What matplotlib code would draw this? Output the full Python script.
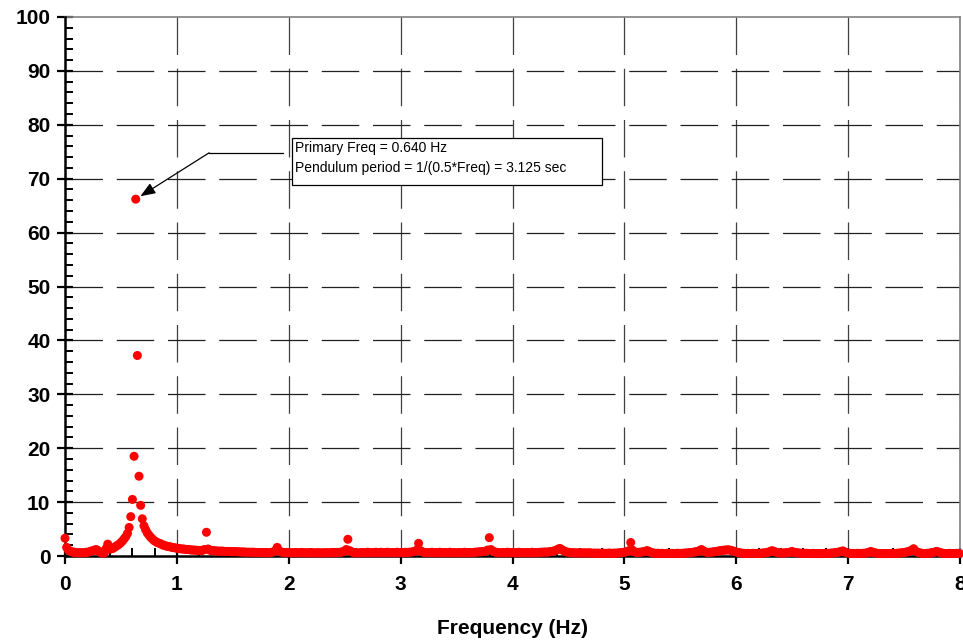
import numpy as np
import matplotlib
matplotlib.use("Agg")
import matplotlib.pyplot as plt
from matplotlib.ticker import MultipleLocator
from matplotlib.patches import Rectangle

plt.rcParams['font.family'] = ['Liberation Sans', 'DejaVu Sans']

# ---- data -------------------------------------------------------------
freq_step = 0.0147          # Hz between spectrum bins
amplitude = [
    3.3, 1.6, 1.1, 0.9, 0.8, 0.7, 0.7, 0.6, 0.6, 0.6, 0.6, 0.6, 0.6, 0.7, 0.7, 0.8, 0.9, 1.0, 1.1, 1.2,
    1.0, 0.8, 0.6, 0.5, 0.6, 1.4, 2.2, 1.5, 1.3, 1.4, 1.6, 1.8, 2.0, 2.2, 2.5, 2.8, 3.2, 3.6, 4.2, 5.3,
    7.3, 10.5, 18.5, 66.2, 37.2, 14.8, 9.4, 6.9, 5.6, 4.9, 4.3, 3.9, 3.5, 3.2, 2.9, 2.7, 2.5, 2.4, 2.3, 2.1,
    2.0, 1.9, 1.8, 1.75, 1.7, 1.6, 1.55, 1.5, 1.45, 1.4, 1.35, 1.3, 1.3, 1.25, 1.2, 1.2, 1.15, 1.1, 1.1, 1.1,
    1.05, 1.05, 1.0, 1.0, 1.1, 1.2, 4.4, 1.3, 1.1, 1.0, 1.0, 0.95, 0.95, 0.9, 0.9, 0.9, 0.9, 0.85, 0.85, 0.85,
    0.85, 0.8, 0.8, 0.8, 0.8, 0.8, 0.75, 0.75, 0.75, 0.75, 0.7, 0.7, 0.7, 0.7, 0.7, 0.7, 0.65, 0.65, 0.65, 0.65,
    0.65, 0.6, 0.6, 0.6, 0.6, 0.65, 0.7, 0.8, 1.0, 1.6, 1.0, 0.8, 0.7, 0.65, 0.65, 0.65, 0.6, 0.6, 0.6, 0.6,
    0.65, 0.6, 0.6, 0.6, 0.65, 0.6, 0.6, 0.6, 0.6, 0.6, 0.6, 0.6, 0.55, 0.6, 0.6, 0.6, 0.55, 0.6, 0.6, 0.6,
    0.6, 0.6, 0.6, 0.65, 0.6, 0.6, 0.65, 0.7, 0.7, 0.8, 0.9, 1.2, 3.1, 1.0, 0.8, 0.7, 0.6, 0.6, 0.55, 0.6,
    0.6, 0.65, 0.6, 0.6, 0.7, 0.65, 0.6, 0.6, 0.65, 0.7, 0.6, 0.65, 0.7, 0.6, 0.6, 0.65, 0.7, 0.6, 0.6, 0.65,
    0.6, 0.65, 0.7, 0.6, 0.6, 0.65, 0.6, 0.7, 0.65, 0.7, 0.7, 0.75, 0.8, 0.9, 1.1, 2.35, 1.0, 0.8, 0.7, 0.65,
    0.6, 0.6, 0.65, 0.7, 0.6, 0.6, 0.65, 0.6, 0.7, 0.6, 0.6, 0.65, 0.6, 0.6, 0.7, 0.6, 0.65, 0.6, 0.6, 0.6,
    0.65, 0.6, 0.6, 0.7, 0.6, 0.6, 0.65, 0.6, 0.65, 0.7, 0.7, 0.75, 0.75, 0.8, 0.8, 0.85, 0.9, 1.1, 3.4, 1.2,
    0.9, 0.8, 0.7, 0.65, 0.6, 0.6, 0.65, 0.6, 0.6, 0.7, 0.6, 0.65, 0.6, 0.6, 0.6, 0.65, 0.7, 0.6, 0.6, 0.6,
    0.6, 0.65, 0.6, 0.6, 0.7, 0.6, 0.65, 0.6, 0.65, 0.7, 0.7, 0.7, 0.75, 0.7, 0.75, 0.8, 0.85, 0.9, 1.0, 1.1,
    1.3, 1.4, 1.2, 1.0, 0.85, 0.75, 0.7, 0.65, 0.6, 0.6, 0.6, 0.55, 0.6, 0.6, 0.55, 0.6, 0.55, 0.6, 0.55, 0.6,
    0.55, 0.5, 0.55, 0.5, 0.55, 0.5, 0.5, 0.55, 0.5, 0.5, 0.5, 0.55, 0.5, 0.5, 0.55, 0.5, 0.55, 0.6, 0.6, 0.65,
    0.7, 0.75, 0.85, 1.0, 2.5, 1.1, 0.8, 0.7, 0.65, 0.7, 0.7, 0.75, 0.8, 0.9, 1.0, 0.85, 0.7, 0.6, 0.55, 0.5,
    0.5, 0.5, 0.45, 0.5, 0.45, 0.45, 0.5, 0.45, 0.45, 0.5, 0.45, 0.45, 0.5, 0.5, 0.45, 0.5, 0.5, 0.55, 0.55, 0.6,
    0.6, 0.65, 0.7, 0.75, 0.8, 0.9, 1.0, 1.2, 0.95, 0.8, 0.7, 0.65, 0.7, 0.7, 0.75, 0.8, 0.85, 0.9, 0.95, 1.0,
    1.05, 1.1, 1.1, 1.15, 1.1, 1.05, 0.95, 0.85, 0.75, 0.65, 0.6, 0.55, 0.5, 0.5, 0.45, 0.5, 0.45, 0.45, 0.5, 0.45,
    0.45, 0.5, 0.5, 0.5, 0.55, 0.55, 0.6, 0.65, 0.75, 0.85, 1.0, 0.85, 0.75, 0.65, 0.6, 0.55, 0.55, 0.55, 0.6, 0.6,
    0.65, 0.7, 0.85, 0.7, 0.65, 0.6, 0.55, 0.55, 0.5, 0.5, 0.5, 0.5, 0.45, 0.45, 0.45, 0.5, 0.45, 0.45, 0.45, 0.45,
    0.45, 0.45, 0.5, 0.45, 0.5, 0.5, 0.55, 0.55, 0.6, 0.65, 0.7, 0.75, 0.85, 0.95, 0.75, 0.65, 0.55, 0.5, 0.45, 0.45,
    0.45, 0.45, 0.5, 0.45, 0.45, 0.5, 0.5, 0.55, 0.6, 0.7, 0.85, 0.7, 0.6, 0.55, 0.5, 0.45, 0.45, 0.45, 0.45, 0.45,
    0.45, 0.45, 0.45, 0.5, 0.45, 0.5, 0.5, 0.55, 0.55, 0.6, 0.65, 0.7, 0.75, 0.85, 0.95, 1.05, 1.35, 0.95, 0.75, 0.65,
    0.55, 0.5, 0.45, 0.45, 0.5, 0.5, 0.55, 0.6, 0.65, 0.75, 0.85, 0.75, 0.65, 0.55, 0.5, 0.45, 0.45, 0.45, 0.5, 0.45,
    0.45, 0.45, 0.5, 0.45, 0.45,
]
frequency = np.arange(len(amplitude)) * freq_step

x_ticks = [0, 1, 2, 3, 4, 5, 6, 7, 8]
y_ticks = [0, 10, 20, 30, 40, 50, 60, 70, 80, 90, 100]
x_label = "Frequency (Hz)"
note_lines = ["Primary Freq = 0.640 Hz",
              "Pendulum period = 1/(0.5*Freq) = 3.125 sec"]

# ---- figure -----------------------------------------------------------
fig = plt.figure(figsize=(9.63, 6.40), dpi=100)
ax = fig.add_axes([65 / 963, 84 / 640, 895 / 963, 539 / 640])

ax.set_xlim(0, 8)
ax.set_ylim(0, 100)

# dashed grid (drawn from the top / left like the reference)
dash = (0, (30, 11))
for xv in x_ticks[1:]:
    ax.plot([xv, xv], [100, 0], color='#404040', lw=0.9, ls=dash, zorder=1)
for yv in y_ticks[1:-1]:
    ax.plot([0, 8], [yv, yv], color='#202020', lw=0.9, ls=dash, zorder=1)

ax.scatter(frequency, amplitude, s=42, color='#ff0000', edgecolors='none',
           zorder=4, clip_on=False)

# spines
for side in ('left', 'bottom'):
    ax.spines[side].set_linewidth(1.8)
    ax.spines[side].set_color('black')
    ax.spines[side].set_zorder(3)
for side in ('top', 'right'):
    ax.spines[side].set_linewidth(1.2)
    ax.spines[side].set_color('#808080')

ax.set_xticks(x_ticks)
ax.set_yticks(y_ticks)
ax.xaxis.set_minor_locator(MultipleLocator(0.2))
ax.yaxis.set_minor_locator(MultipleLocator(2))
ax.tick_params(axis='both', which='major', direction='inout', length=11,
               width=1.6, labelsize=15, color='black')
ax.tick_params(axis='both', which='minor', direction='in', length=6,
               width=1.4, color='black')
ax.tick_params(axis='y', which='major', pad=5)
ax.tick_params(axis='x', which='major', pad=8)
for lab in ax.get_xticklabels() + ax.get_yticklabels():
    lab.set_fontweight('bold')

ax.set_xlabel(x_label, fontsize=15, fontweight='bold', labelpad=18)

# annotation
peak_i = int(np.argmax(amplitude))
peak_x, peak_y = frequency[peak_i], amplitude[peak_i]
elbow = (0.161, 0.748)
line_end = (0.244, 0.748)
ax.plot([elbow[0], line_end[0]], [elbow[1], line_end[1]], color='black',
        lw=0.9, transform=ax.transAxes, zorder=5)
ax.annotate('', xy=(peak_x, peak_y), xycoords='data',
            xytext=elbow, textcoords='axes fraction',
            arrowprops=dict(arrowstyle='-|>,head_length=0.9,head_width=0.35',
                            mutation_scale=10, color='black', lw=0.9,
                            shrinkA=0, shrinkB=4),
            zorder=5)
ax.add_patch(Rectangle((0.2533, 0.6883), 0.3464, 0.0867, transform=ax.transAxes,
                       facecolor='white', edgecolor='black', lw=0.9, zorder=5))
ax.text(0.257, 0.7564, note_lines[0], transform=ax.transAxes, fontsize=10,
        va='center', ha='left', zorder=6)
ax.text(0.257, 0.7193, note_lines[1], transform=ax.transAxes, fontsize=10,
        va='center', ha='left', zorder=6)

fig.savefig('out.png', dpi=100)
